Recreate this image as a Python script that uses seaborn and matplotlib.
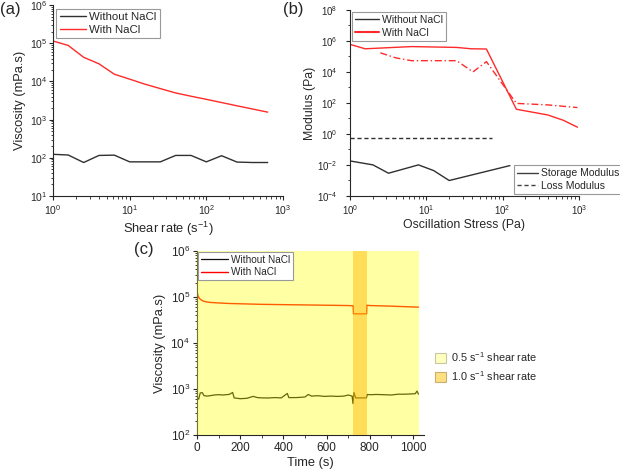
import matplotlib

matplotlib.use("Agg")
import matplotlib.pyplot as plt
import seaborn as sns
from matplotlib.lines import Line2D
from matplotlib.patches import Patch
from matplotlib.ticker import FixedLocator, NullFormatter

# (a) steady shear viscosity
shear_rate = [1, 1.58, 2.51, 3.98, 6.31, 10, 15.8, 25.1, 39.8, 63.1, 100, 158, 251, 398, 631]
visc_without = [123, 118, 75, 115, 117, 78, 78, 78, 115, 115, 78, 113, 77, 75, 75]
visc_with = [1.15e5, 8.8e4, 4.3e4, 2.9e4, 1.55e4, 1.15e4, 8.5e3, 6.5e3, 5.0e3, 4.1e3,
             3.4e3, 2.8e3, 2.3e3, 1.9e3, 1.57e3]

# (b) amplitude sweep
stress_g1_with = [1, 1.58, 6.4, 25, 39, 61.5, 152, 395, 630, 960]
g1_with = [6.0e5, 3.1e5, 4.3e5, 3.8e5, 3.1e5, 3.0e5, 39, 16.5, 7.5, 2.7]
stress_g2_with = [2.5, 4, 6.4, 25, 41, 61.5, 152, 395, 960]
g2_with = [1.7e5, 8.0e4, 5.3e4, 5.3e4, 1.0e4, 4.6e4, 93, 74, 50]
stress_g1_without = [1, 2.0, 3.2, 7.9, 12.5, 20, 125]
g1_without = [0.018, 0.010, 0.0029, 0.010, 0.0043, 0.00098, 0.009]
stress_g2_without = [1, 2, 5, 10, 20, 40, 72]
g2_without = [0.58, 0.58, 0.58, 0.58, 0.58, 0.58, 0.58]

# (c) time sweep
time_without = [0, 8, 15, 25, 32, 45, 60, 80, 100, 120, 150, 165, 172, 200, 230, 260, 280,
                300, 330, 360, 390, 418, 425, 460, 500, 515, 530, 560, 590, 620, 650, 680,
                700, 718, 722, 726, 735, 760, 784, 788, 800, 830, 860, 900, 930, 960, 990,
                1010, 1018, 1025]
time_visc_without = [660, 600, 820, 830, 720, 700, 714, 740, 752, 740, 763, 840, 640, 615,
                     626, 690, 650, 640, 637, 650, 640, 800, 650, 650, 670, 760, 700, 714,
                     690, 700, 690, 700, 740, 700, 480, 840, 637, 640, 640, 760, 750, 760,
                     752, 740, 770, 770, 780, 790, 900, 770]
time_with = [0, 2, 5, 10, 20, 30, 45, 60, 100, 150, 200, 300, 400, 500, 600, 700, 723, 724,
             785, 786, 800, 900, 1025]
time_visc_with = [9.0e4, 1.2e5, 1.05e5, 9.4e4, 8.6e4, 8.1e4, 7.8e4, 7.6e4, 7.4e4, 7.2e4,
                  7.1e4, 6.9e4, 6.8e4, 6.7e4, 6.6e4, 6.5e4, 6.4e4, 4.3e4, 4.3e4, 6.6e4,
                  6.5e4, 6.3e4, 6.0e4]
span_low = (0, 1028)
span_high = (724, 786)

BLACK = "#303030"
RED = "#ff2a2a"

sns.set_style("ticks")
plt.rcParams["font.family"] = ["Liberation Sans", "DejaVu Sans"]
plt.rcParams["mathtext.fontset"] = "custom"
plt.rcParams["mathtext.rm"] = "Liberation Sans"
plt.rcParams["mathtext.it"] = "Liberation Sans:italic"
plt.rcParams["mathtext.bf"] = "Liberation Sans:bold"

fig = plt.figure(figsize=(6.2, 4.72), dpi=100)
ax_a = fig.add_axes([0.0855, 0.585, 0.371, 0.404])
ax_b = fig.add_axes([0.5645, 0.585, 0.369, 0.394])
ax_c = fig.add_axes([0.3177, 0.0784, 0.366, 0.390])


def _style(ax, labelsize, ypad=2):
    for side in ("top", "right"):
        ax.spines[side].set_visible(False)
    for side in ("left", "bottom"):
        ax.spines[side].set_linewidth(0.8)
    ax.tick_params(which="major", length=3, width=0.8, labelsize=labelsize, pad=2)
    ax.tick_params(which="minor", length=1.8, width=0.6)
    ax.tick_params(axis="y", which="major", pad=ypad)


def _legend(ax, size, hlen, **kw):
    leg = ax.legend(fontsize=size, frameon=True, fancybox=False, edgecolor="#999999",
                    handlelength=hlen, handletextpad=0.3, borderpad=0.3,
                    labelspacing=0.25, framealpha=1, **kw)
    leg.get_frame().set_linewidth(0.8)
    return leg


# (a)
sns.lineplot(x=shear_rate, y=visc_without, ax=ax_a, color=BLACK, lw=1, label="Without NaCl", estimator=None)
sns.lineplot(x=shear_rate, y=visc_with, ax=ax_a, color=RED, lw=1, label="With NaCl", estimator=None)
ax_a.set_xscale("log")
ax_a.set_yscale("log")
ax_a.set_xlim(1, 1000)
ax_a.set_ylim(10, 1e6)
ax_a.set_xlabel("Shear rate (s$^{-1}$)", fontsize=9.3, labelpad=2)
ax_a.set_ylabel("Viscosity (mPa.s)", fontsize=9.3, labelpad=3)
_style(ax_a, 7.5, ypad=0.8)
_legend(ax_a, 8.2, 2.3, loc="upper left", borderaxespad=0.3)

# (b)
sns.lineplot(x=stress_g1_without, y=g1_without, ax=ax_b, color=BLACK, lw=1, estimator=None)
sns.lineplot(x=stress_g2_without, y=g2_without, ax=ax_b, color=BLACK, lw=1, estimator=None,
             linestyle=(0, (3, 2)))
sns.lineplot(x=stress_g1_with, y=g1_with, ax=ax_b, color=RED, lw=1, estimator=None)
sns.lineplot(x=stress_g2_with, y=g2_with, ax=ax_b, color=RED, lw=1, estimator=None,
             linestyle=(0, (5, 2, 1, 2)))
ax_b.set_xscale("log")
ax_b.set_yscale("log")
ax_b.set_xlim(1, 1000)
ax_b.set_ylim(1e-4, 1e8)
ax_b.yaxis.set_major_locator(FixedLocator([1e-4, 1e-2, 1, 1e2, 1e4, 1e6, 1e8]))
ax_b.yaxis.set_minor_locator(FixedLocator([1e-3, 1e-1, 10, 1e3, 1e5, 1e7]))
ax_b.yaxis.set_minor_formatter(NullFormatter())
ax_b.set_xlabel("Oscillation Stress (Pa)", fontsize=8.8, labelpad=2)
ax_b.set_ylabel("Modulus (Pa)", fontsize=8.8, labelpad=0.5)
_style(ax_b, 7, ypad=6)
leg1 = _legend(ax_b, 7.5, 2.3, loc="upper left", borderaxespad=0.2,
               handles=[Line2D([], [], color=BLACK, lw=1), Line2D([], [], color=RED, lw=1.5)],
               labels=["Without NaCl", "With NaCl"])
ax_b.add_artist(leg1)
_legend(ax_b, 7.5, 2.0, loc="lower right", bbox_to_anchor=(1.19, 0.01), borderaxespad=0,
        handles=[Line2D([], [], color="#404040", lw=1),
                 Line2D([], [], color="#404040", lw=1, linestyle=(0, (3, 2)))],
        labels=["Storage Modulus", "Loss Modulus"])

# (c)
sns.lineplot(x=time_without, y=time_visc_without, ax=ax_c, color="#101010", lw=0.9,
             label="Without NaCl", estimator=None, sort=False)
sns.lineplot(x=time_with, y=time_visc_with, ax=ax_c, color="#ff0000", lw=1,
             label="With NaCl", estimator=None, sort=False)
ax_c.axvspan(*span_low, color="#ffff00", alpha=0.36, lw=0, zorder=3)
ax_c.axvspan(*span_high, color="#ffb400", alpha=0.45, lw=0, zorder=3.1)
ax_c.set_yscale("log")
ax_c.set_xlim(0, 1050)
ax_c.set_ylim(100, 1e6)
ax_c.set_xticks([0, 200, 400, 600, 800, 1000])
ax_c.xaxis.set_minor_locator(FixedLocator([100, 300, 500, 700, 900]))
ax_c.set_xlabel("Time (s)", fontsize=9.3, labelpad=2)
ax_c.set_ylabel("Viscosity (mPa.s)", fontsize=9.3, labelpad=3)
_style(ax_c, 8.5, ypad=2)
lc = _legend(ax_c, 7.2, 2.7, loc="upper left", borderaxespad=0.1)
lc.set_zorder(6)
ax_c.add_artist(lc)
ax_c.legend(handles=[Patch(facecolor="#ffffc0", edgecolor="#c8c8a0", lw=0.8),
                     Patch(facecolor="#ffe080", edgecolor="#c8b070", lw=0.8)],
            labels=["0.5 s$^{-1}$ shear rate", "1.0 s$^{-1}$ shear rate"],
            loc="upper left", bbox_to_anchor=(1.03, 0.485), frameon=False, fontsize=7.8,
            handlelength=1.0, handleheight=1.0, handletextpad=0.5, labelspacing=0.45,
            borderaxespad=0)

fig.text(0.0, 0.995, "(a)", fontsize=12, va="top")
fig.text(0.456, 0.995, "(b)", fontsize=12, va="top")
fig.text(0.247, 0.487, "(c)", fontsize=12, va="top", ha="right")

fig.savefig("out.png", dpi=100)
